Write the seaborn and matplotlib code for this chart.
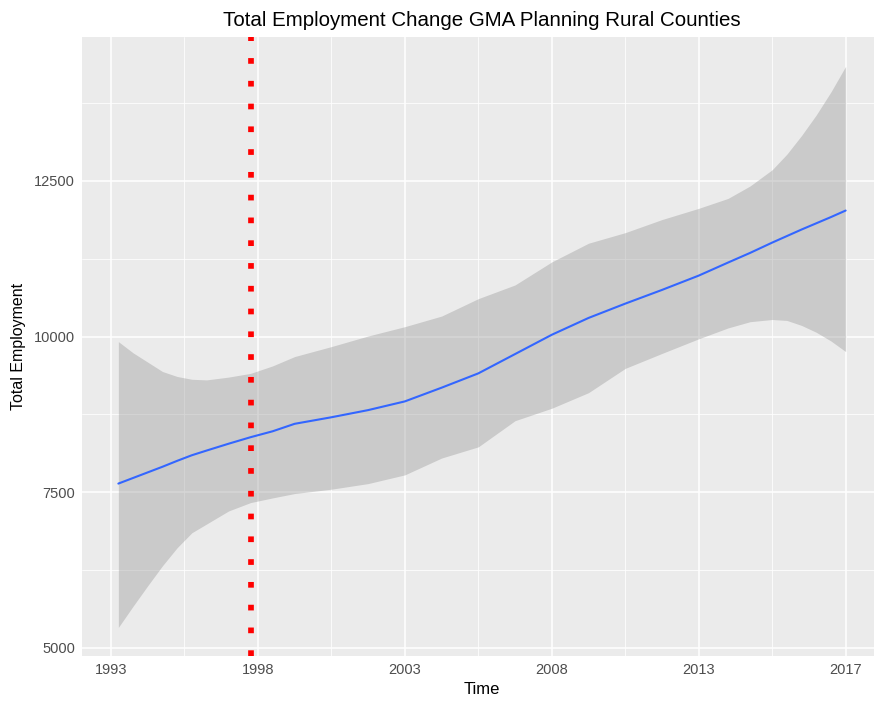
import numpy as np
import pandas as pd
import matplotlib
matplotlib.use("Agg")
import matplotlib.pyplot as plt
import seaborn as sns

# smoothed trend (quarter index)
quarter = [1, 2, 3, 5, 7, 9, 11, 13, 16, 19, 22, 25, 30, 35, 40, 45, 50, 55,
           60, 65, 70, 75, 80, 84, 87, 90, 92, 94, 96, 98, 100]
fit = [7640, 7685, 7730, 7820, 7910, 8005, 8095, 8170, 8280, 8385, 8480, 8600,
       8705, 8820, 8960, 9180, 9410, 9720, 10030, 10300, 10530, 10750, 10980,
       11190, 11345, 11510, 11615, 11720, 11820, 11920, 12025]
upper = [9920, 9830, 9740, 9590, 9440, 9360, 9315, 9305, 9350, 9410, 9530,
         9680, 9840, 10010, 10160, 10330, 10610, 10830, 11200, 11500, 11670,
         11880, 12060, 12220, 12420, 12680, 12930, 13230, 13560, 13930, 14340]
lower = [5330, 5500, 5670, 6000, 6320, 6610, 6850, 6990, 7200, 7335, 7410,
         7480, 7550, 7640, 7780, 8050, 8230, 8650, 8850, 9100, 9490, 9730,
         9965, 10140, 10240, 10275, 10260, 10180, 10070, 9930, 9760]

tick_pos = [0, 20, 40, 60, 80, 100]
tick_labels = ["1993", "1998", "2003", "2008", "2013", "2017"]
policy_quarter = 19

df = pd.DataFrame({"quarter": quarter, "fit": fit, "upper": upper, "lower": lower})

sns.set_theme(style="darkgrid")
plt.rcParams["font.family"] = ["Liberation Sans", "DejaVu Sans"]

W, H = 874, 704
fig = plt.figure(figsize=(W / 100, H / 100), dpi=100)
ax = fig.add_axes([82 / W, (H - 656) / H, (882 - 82) / W, (656 - 37) / H])
ax.set_facecolor("#EBEBEB")

ax.fill_between(df["quarter"], df["lower"], df["upper"], color="#999999",
                alpha=0.4, linewidth=0, zorder=2)
sns.lineplot(data=df, x="quarter", y="fit", color="#3366FF", linewidth=1.5,
             ax=ax, zorder=3)
ax.axvline(policy_quarter, color="#FF0000", linewidth=4.1, linestyle=(0, (1, 3)),
           dash_capstyle="butt", zorder=4)

ax.set_xlim(-3.95, 104.95)
ax.set_ylim(4871, 14812)
ax.set_xticks(tick_pos)
ax.set_xticklabels(tick_labels)
ax.set_xticks([10, 30, 50, 70, 90], minor=True)
ax.set_yticks([5000, 7500, 10000, 12500])
ax.set_yticks([6250, 8750, 11250, 13750], minor=True)

ax.grid(which="major", color="white", linewidth=1.1)
ax.grid(which="minor", color="white", linewidth=0.55)
for s in ax.spines.values():
    s.set_visible(False)
ax.tick_params(which="major", length=3, width=0.8, color="#333333",
               labelcolor="#4D4D4D", labelsize=10.5, pad=2)
ax.tick_params(which="minor", length=0)

ax.set_xlabel("Time", fontsize=12, color="black", labelpad=4)
ax.set_ylabel("Total Employment", fontsize=11.5, color="black", labelpad=6)
ax.set_title("Total Employment Change GMA Planning Rural Counties",
             fontsize=14.8, color="black", pad=8)

fig.savefig("out.png", dpi=100)
